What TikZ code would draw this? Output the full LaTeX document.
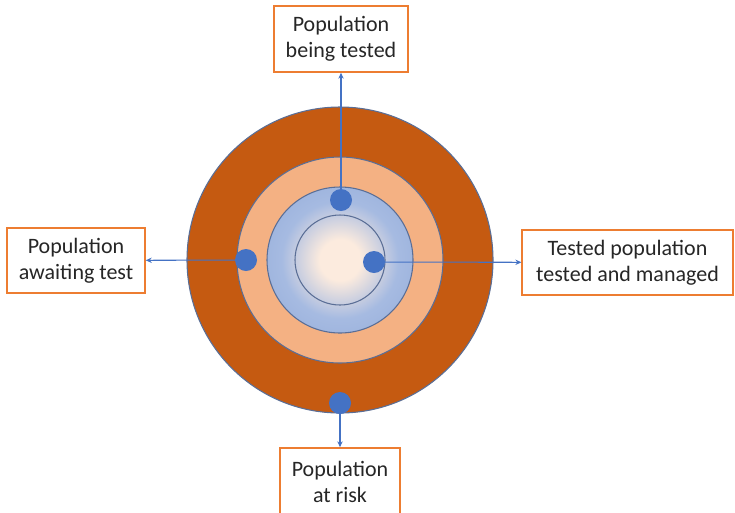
\documentclass[tikz,border=0pt]{standalone}
\usepackage{fontspec}
\setmainfont{Carlito}
\usepackage{tikz}
\usetikzlibrary{arrows.meta}

\definecolor{riskorange}{HTML}{C55A11}
\definecolor{waitorange}{HTML}{F4B183}
\definecolor{boxorange}{HTML}{ED7D31}
\definecolor{dotblue}{HTML}{4472C4}
\definecolor{ringline}{HTML}{5A6E96}
\definecolor{glowpeach}{HTML}{FCEBDE}
\definecolor{ringblue}{HTML}{9AB1DC}
\definecolor{edgeblue}{HTML}{C2D1EE}
\definecolor{textgrey}{HTML}{262626}

% soft glow in the middle of the tested area
\pgfdeclareradialshading{testglow}{\pgfpoint{0bp}{0bp}}{%
  color(0bp)=(glowpeach); color(7bp)=(glowpeach); color(20bp)=(ringblue!70!edgeblue);
  color(30bp)=(ringblue); color(37bp)=(ringblue); color(50bp)=(edgeblue)}

\begin{document}
\begin{tikzpicture}[x=0.75pt,y=-0.75pt,
    popbox/.style={draw=boxorange,line width=1.1pt,fill=white,align=center,
      text=textgrey,font=\fontsize{16.5}{19.5}\selectfont,inner sep=0pt},
    popdot/.style={circle,fill=dotblue,minimum size=16.5pt,inner sep=0pt},
    ring/.style={draw=ringline,line width=0.8pt},
    link/.style={draw=dotblue,line width=0.8pt,-{Stealth[length=4.5pt,width=4pt]}}]
  \useasboundingbox (0,0) rectangle (735,512);

  % rings, outer to inner
  \coordinate (c) at (340,260);
  \path[ring,fill=riskorange] (c) circle (153);
  \path[ring,fill=waitorange] (c) circle (103);
  \path[ring,shading=testglow] (c) circle (73);
  \path[ring] (c) circle (45);

  % text boxes
  \node[popbox,minimum width=100.5pt,minimum height=49.5pt] (tested) at (341,39) {Population\\being tested};
  \node[popbox,minimum width=103.5pt,minimum height=48.75pt] (awaiting) at (76,260.5) {Population\\awaiting test};
  \node[popbox,minimum width=158pt,minimum height=48.75pt] (managed) at (627.5,262.5) {Tested population\\tested and managed};
  \node[popbox,minimum width=90pt,minimum height=51pt] (risk) at (340,482) {Population\\at risk};

  % dots on the rings
  \coordinate (dtested) at (341,200);
  \coordinate (dawaiting) at (246,260);
  \coordinate (dmanaged) at (374,262);
  \coordinate (drisk) at (340,403);

  \draw[link] (dtested) -- (tested);
  \draw[link] (dawaiting) -- (awaiting);
  \draw[link] (dmanaged) -- (managed);
  \draw[link] (drisk) -- (risk);

  \foreach \d in {dtested,dawaiting,dmanaged,drisk}
    \node[popdot] at (\d) {};
\end{tikzpicture}
\end{document}
